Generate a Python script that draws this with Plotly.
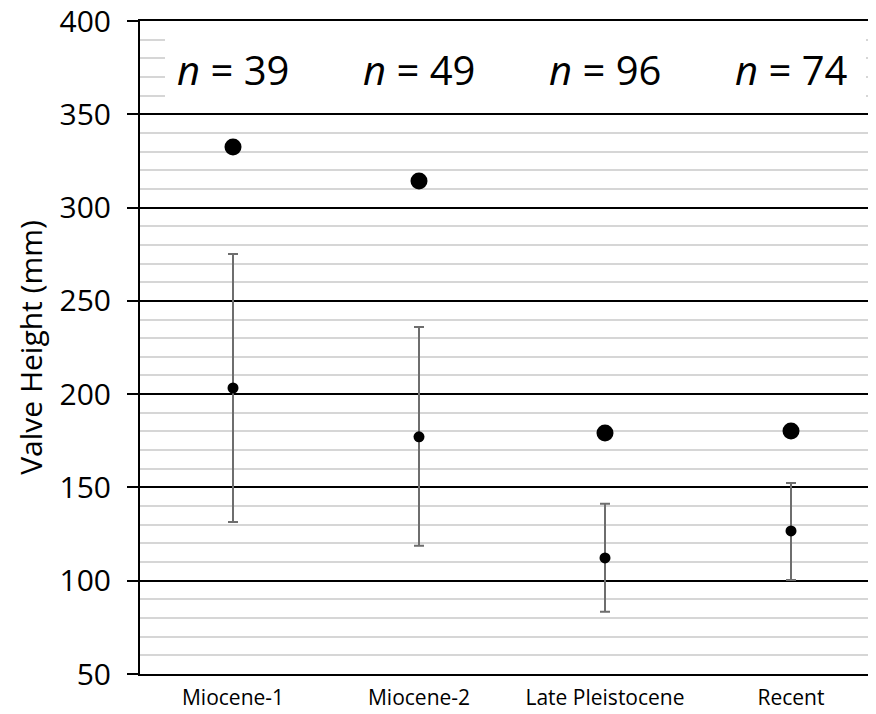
import plotly.graph_objects as go

categories = ["Miocene-1", "Miocene-2", "Late Pleistocene", "Recent"]
n_labels = ["39", "49", "96", "74"]
upper_dot = [332.5, 314.3, 179.2, 180.3]
mean_vals = [203.3, 177.1, 112.2, 126.7]
err_plus = [71.8, 58.9, 29.0, 25.7]
err_minus = [71.8, 58.4, 28.9, 26.3]
y_ticks = [50, 100, 150, 200, 250, 300, 350, 400]

xs = list(range(len(categories)))
FONT = "Open Sans"

fig = go.Figure()

fig.add_trace(go.Scatter(
    x=xs, y=mean_vals, mode="markers",
    marker=dict(color="black", size=11),
    error_y=dict(type="data", symmetric=False, array=err_plus, arrayminus=err_minus,
                 color="#6e6e6e", thickness=2, width=5),
    showlegend=False,
))
fig.add_trace(go.Scatter(
    x=xs, y=upper_dot, mode="markers",
    marker=dict(color="black", size=17),
    showlegend=False,
))

# white text box behind the n labels (hides minor gridlines)
fig.add_annotation(x=0.5047, xref="paper", y=375, yref="y", text=" ", showarrow=False,
                   width=701, height=80, bgcolor="white", borderpad=0, borderwidth=0)

for i, n in enumerate(n_labels):
    fig.add_annotation(x=xs[i], y=374, xref="x", yref="y",
                       text=f"<i>n</i> = {n}", showarrow=False,
                       font=dict(family=FONT, size=40, color="black"))

fig.update_layout(
    width=876, height=714,
    margin=dict(l=132, r=0, t=13, b=48),
    paper_bgcolor="white", plot_bgcolor="white",
    font=dict(family=FONT, color="black"),
    xaxis=dict(
        range=[-0.5, 3.5], tickvals=xs, ticktext=categories, automargin=False,
        showgrid=False, zeroline=False, showline=True, mirror=True,
        linecolor="black", linewidth=1.5, ticks="",
        tickfont=dict(size=21, family=FONT), ticklabelstandoff=4,
    ),
    yaxis=dict(
        range=[50, 400], tickvals=y_ticks, showgrid=True, gridcolor="black", gridwidth=1.5,
        automargin=False,
        showline=True, linecolor="black", linewidth=2, ticks="outside", ticklen=11,
        tickcolor="black", tickwidth=1.5, zeroline=False,
        tickfont=dict(size=30, family=FONT), ticklabelstandoff=10,
        ticklabeloverflow="allow",
        title=dict(text="Valve Height (mm)", font=dict(size=30, family=FONT), standoff=8),
        minor=dict(dtick=10, showgrid=True, gridcolor="#d6d6d6", gridwidth=2, ticks=""),
        layer="below traces",
    ),
)

fig.write_html("out.html")
